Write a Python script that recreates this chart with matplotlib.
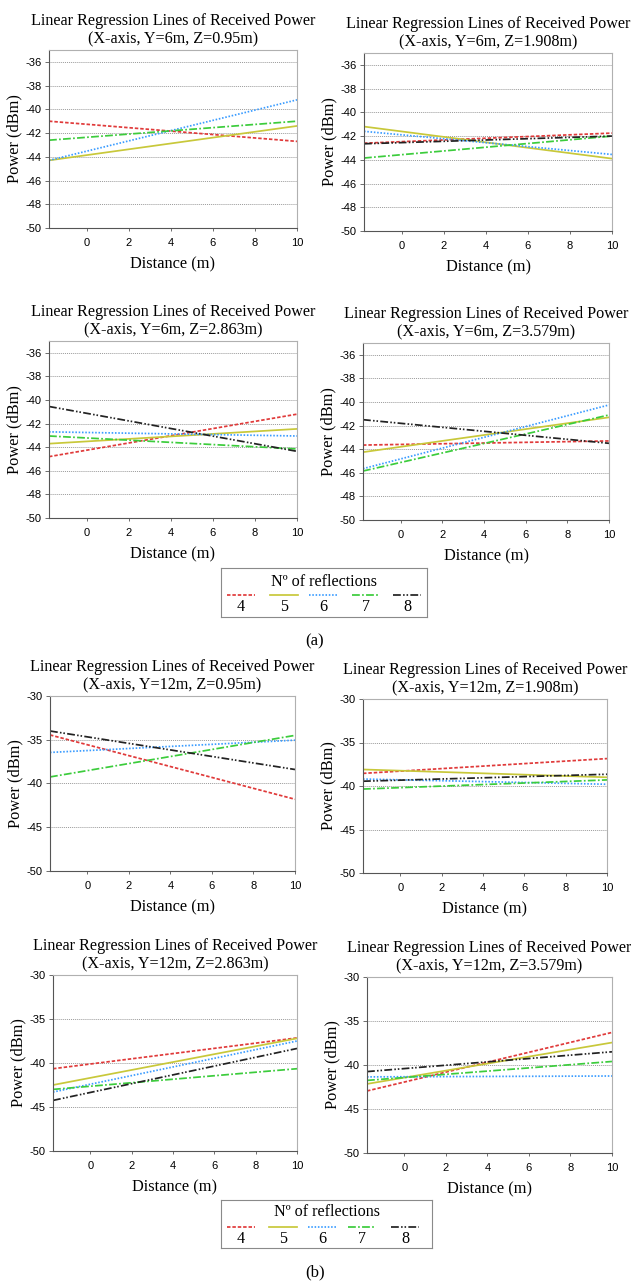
import numpy as np
import matplotlib
matplotlib.use("Agg")
import matplotlib.pyplot as plt

# ---------------- data ----------------
distance = [-1.8, 10.0]           # regression lines drawn across the x range
reflections = ["4", "5", "6", "7", "8"]
nan = np.nan

# (a) Y = 6 m : power at left end / right end for reflections 4..8
a1_left  = [-41.0, -44.3, -44.3, -42.6, nan]
a1_right = [-42.7, -41.4, -39.2, -41.0, nan]
a2_left  = [-42.6, -41.2, -41.6, -43.85, -42.65]
a2_right = [-41.75, -43.9, -43.55, -42.0, -42.0]
a3_left  = [-44.8, -43.7, -42.7, -43.05, -40.55]
a3_right = [-41.2, -42.45, -43.05, -44.15, -44.35]
a4_left  = [-43.65, -44.25, -45.65, -45.85, -41.5]
a4_right = [-43.3, -41.3, -40.25, -41.1, -43.5]

# (b) Y = 12 m
b1_left  = [-34.45, nan, -36.45, -39.25, -34.0]
b1_right = [-41.8, nan, -35.05, -34.5, -38.4]
b2_left  = [-38.55, -38.1, -39.2, -40.35, -39.45]
b2_right = [-36.85, -39.0, -39.8, -39.3, -38.65]
b3_left  = [-40.65, -42.5, -43.3, -43.0, -44.25]
b3_right = [-37.15, -37.2, -37.5, -40.65, -38.35]
b4_left  = [-42.95, -42.15, -41.35, -41.75, -40.75]
b4_right = [-36.3, -37.45, -41.25, -39.6, -38.5]

titles = [
    "Linear Regression Lines of Received Power\n(X-axis, Y=6m, Z=0.95m)",
    "Linear Regression Lines of Received Power\n(X-axis, Y=6m, Z=1.908m)",
    "Linear Regression Lines of Received Power\n(X-axis, Y=6m, Z=2.863m)",
    "Linear Regression Lines of Received Power\n(X-axis, Y=6m, Z=3.579m)",
    "Linear Regression Lines of Received Power\n(X-axis, Y=12m, Z=0.95m)",
    "Linear Regression Lines of Received Power\n(X-axis, Y=12m, Z=1.908m)",
    "Linear Regression Lines of Received Power\n(X-axis, Y=12m, Z=2.863m)",
    "Linear Regression Lines of Received Power\n(X-axis, Y=12m, Z=3.579m)",
]
x_ticks = [0, 2, 4, 6, 8, 10]
y_ticks_a = [-50, -48, -46, -44, -42, -40, -38, -36]
y_ticks_b = [-50, -45, -40, -35, -30]

# ---------------- styles ----------------
colors = ["#e03a3a", "#c8c83a", "#3a9cff", "#3ccc3c", "#222222"]
styles = [(0, (2.0, 1.1)), "-", (0, (0.9, 1.0)), (0, (4.5, 1.3, 1.0, 1.3)),
          (0, (4.5, 1.3, 0.9, 1.1, 0.9, 1.3))]
SERIF = ["Liberation Serif", "DejaVu Serif"]
SANS = ["Liberation Sans", "DejaVu Sans"]
LW = 1.25

W, H = 631, 1281
fig = plt.figure(figsize=(W / 100, H / 100), dpi=100)
fig.patch.set_facecolor("white")

# axes boxes in pixels: left, right, top, bottom
boxes = [
    (49, 297, 50, 228), (364, 612, 53, 231),
    (49, 297, 341, 518), (363, 609, 343, 520),
    (50, 295, 696, 871), (363, 607, 699, 873),
    (53, 297, 975, 1151), (367, 612, 977, 1153),
]
lefts = [a1_left, a2_left, a3_left, a4_left, b1_left, b2_left, b3_left, b4_left]
rights = [a1_right, a2_right, a3_right, a4_right, b1_right, b2_right, b3_right, b4_right]


def px_axes(l, r, t, b):
    return fig.add_axes([l / W, 1 - b / H, (r - l) / W, (b - t) / H])


for i, (box, lv, rv, title) in enumerate(zip(boxes, lefts, rights, titles)):
    ax = px_axes(*box)
    top_half = i < 4
    if top_half:
        ax.set_ylim(-50, -35)
        yt = y_ticks_a
    else:
        ax.set_ylim(-50, -30)
        yt = y_ticks_b
    ax.set_xlim(distance[0], distance[1])
    ax.set_yticks(yt)
    ax.set_yticklabels([str(v) for v in yt], fontfamily=SANS, fontsize=8)
    ax.set_xticks(x_ticks)
    ax.set_xticklabels([str(v) for v in x_ticks], fontfamily=SANS, fontsize=8)
    ax.tick_params(axis="y", length=3, width=0.6, color="#555555", pad=2.5)
    ax.tick_params(axis="x", length=2, width=0.6, color="#555555", pad=5)
    for v in yt[1:]:
        if v < ax.get_ylim()[1]:
            ax.axhline(v, color="#9a9a9a", lw=0.7, ls=(0, (1, 1)), zorder=0)
    for s in ["left", "bottom"]:
        ax.spines[s].set_color("#555555")
        ax.spines[s].set_linewidth(0.8)
    for s in ["top", "right"]:
        ax.spines[s].set_color("#b0b0b0")
        ax.spines[s].set_linewidth(0.8)
    for k in range(len(reflections)):
        ax.plot(distance, [lv[k], rv[k]], color=colors[k], ls=styles[k], lw=LW,
                zorder=2 + k * 0.1)
    ax.set_title(title, fontfamily=SERIF, fontsize=11.6, pad=5, linespacing=1.2)
    ax.set_xlabel("Distance (m)", fontfamily=SERIF, fontsize=11.8, labelpad=6)
    ax.set_ylabel("Power (dBm)", fontfamily=SERIF, fontsize=11.8, labelpad=2)


def legend_box(l, r, t, b, handle_centers, handle_y, label_y, title_y):
    lax = px_axes(l, r, t, b)
    lax.set_xlim(l, r)
    lax.set_ylim(b, t)
    lax.set_xticks([])
    lax.set_yticks([])
    for s in lax.spines.values():
        s.set_color("#8a8a8a")
        s.set_linewidth(0.8)
    lax.text((l + r) / 2, title_y, "N\u00ba of reflections", fontfamily=SERIF,
             fontsize=11.6, ha="center", va="center")
    for k, cx in enumerate(handle_centers):
        lax.plot([cx - 14, cx + 14], [handle_y, handle_y], color=colors[k],
                 ls=styles[k], lw=LW)
        lax.text(cx, label_y, reflections[k], fontfamily=SERIF, fontsize=11.6,
                 ha="center", va="center")


legend_box(221, 427, 568, 617, [241, 284, 323, 366, 407], 595, 607, 582)
fig.text(315 / W, 1 - 641 / H, "(a)", fontfamily=SERIF, fontsize=12,
         ha="center", va="center")
legend_box(221, 432, 1200, 1248, [241, 283, 322, 362, 405], 1227, 1239, 1212)
fig.text(315 / W, 1 - 1272 / H, "(b)", fontfamily=SERIF, fontsize=12,
         ha="center", va="center")

fig.savefig("out.png", dpi=100)
